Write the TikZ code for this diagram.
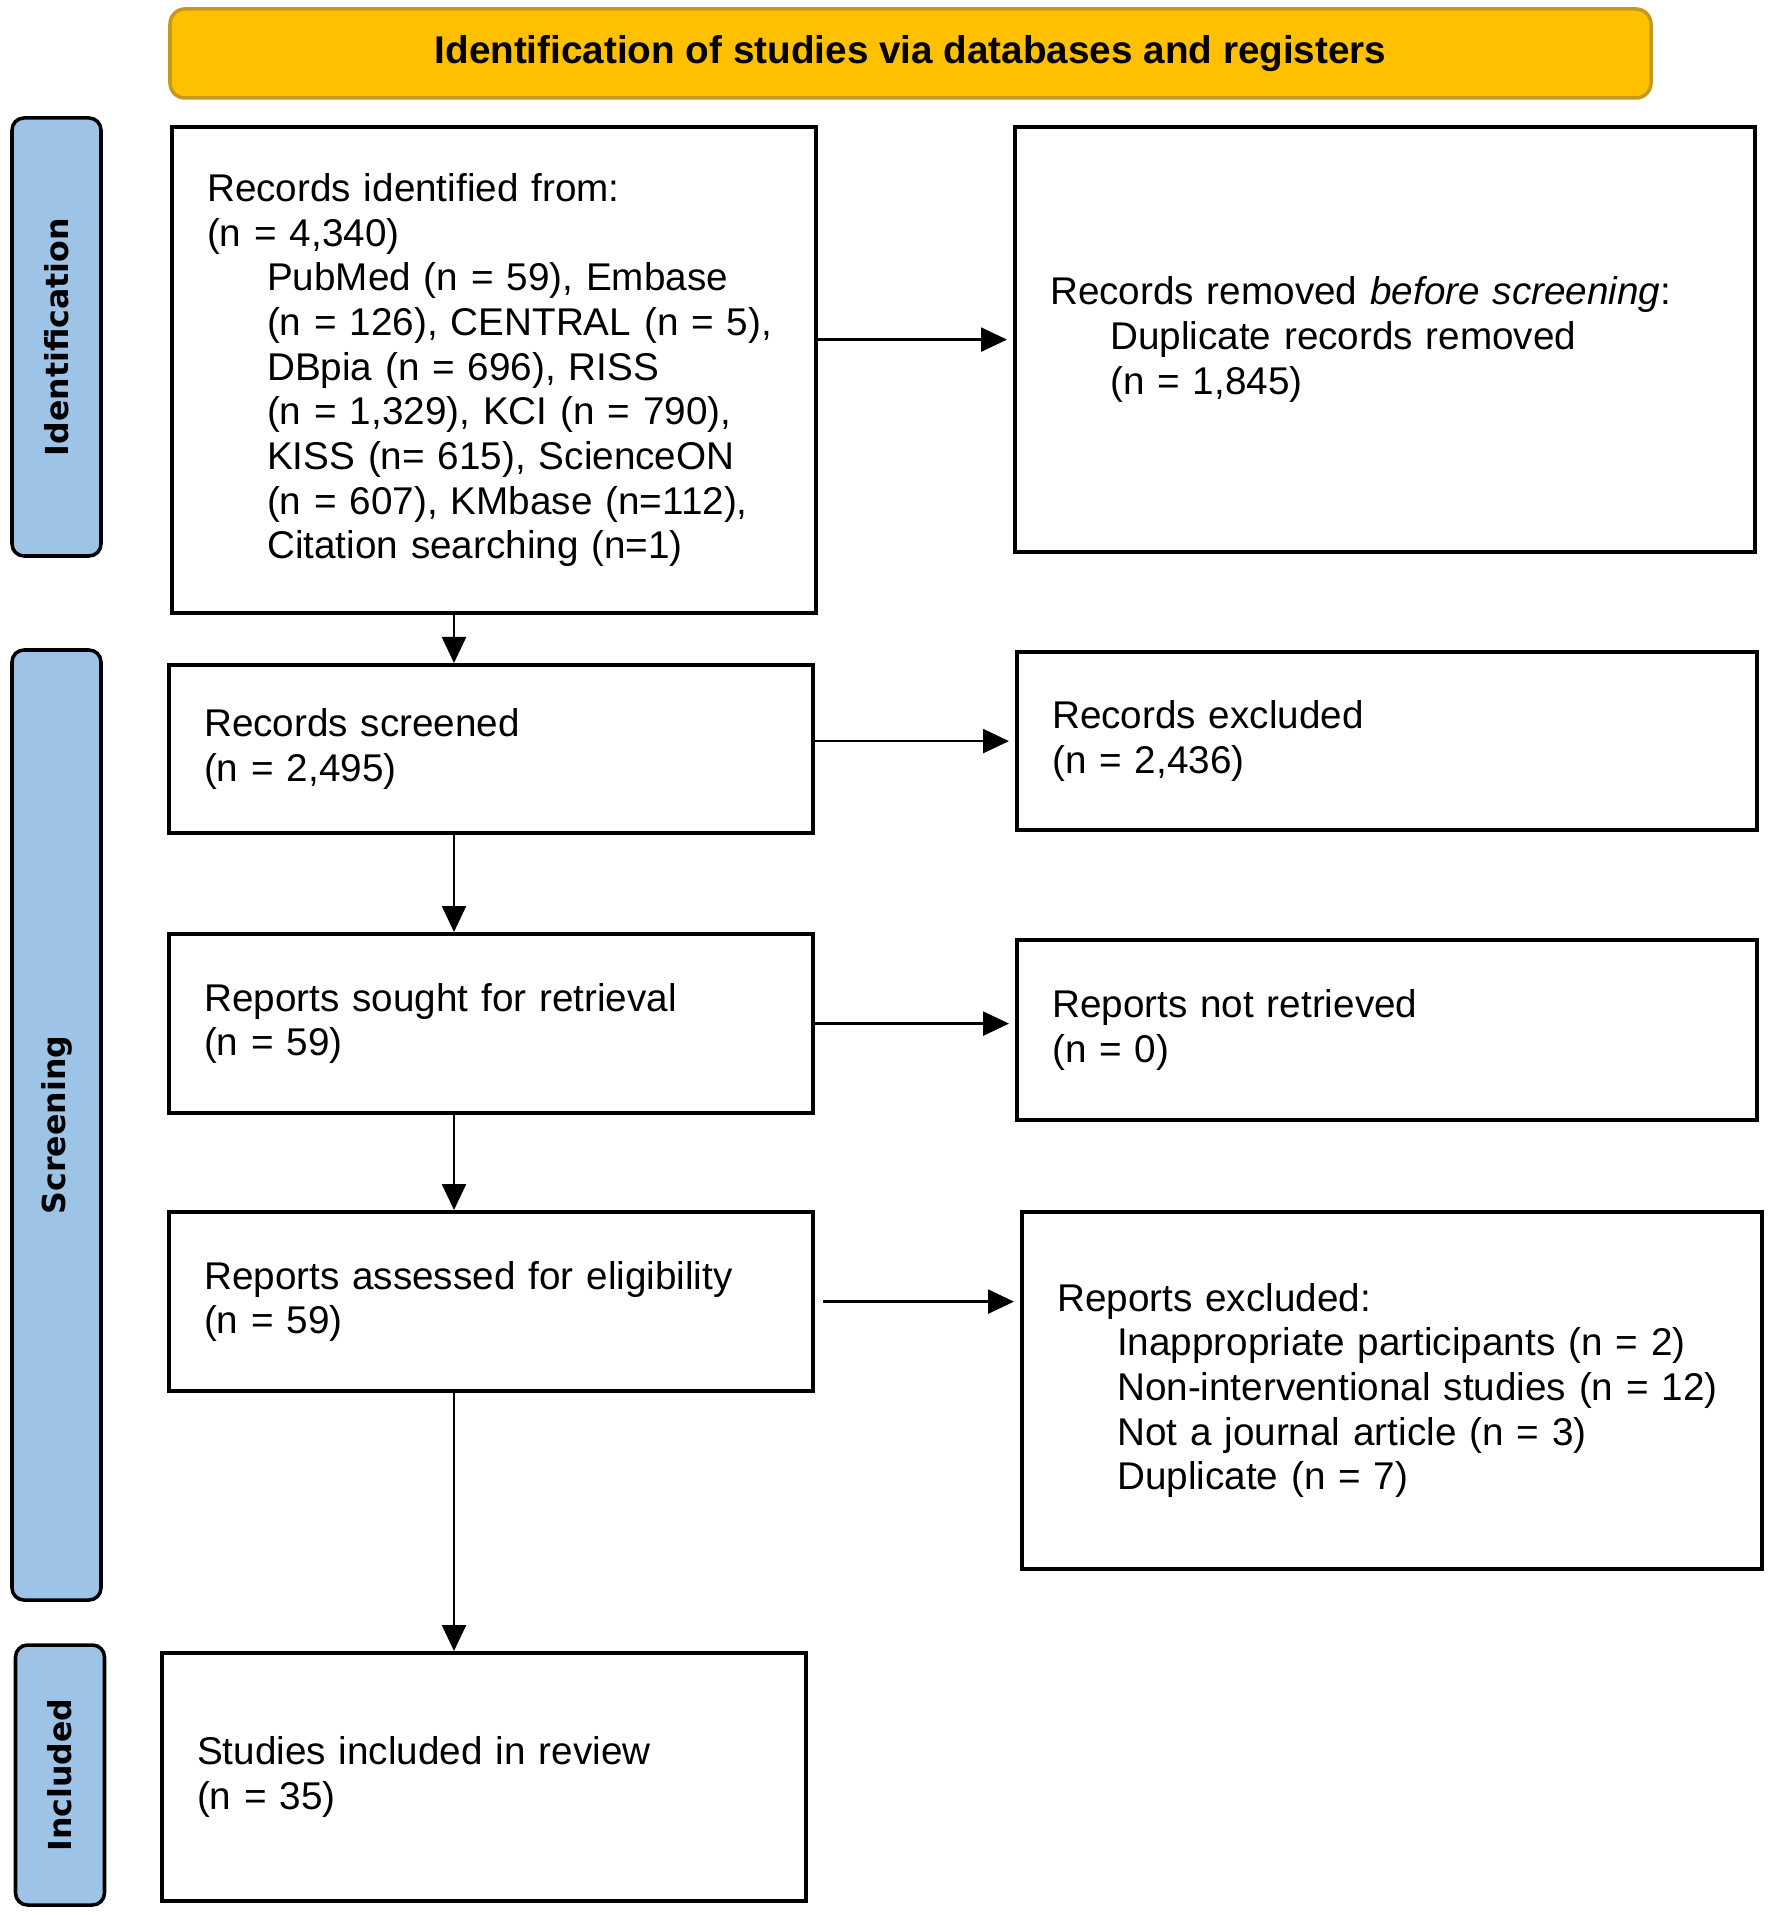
\documentclass[tikz,border=0pt]{standalone}
\usepackage{fontspec}
\setmainfont{Liberation Sans}
\newfontfamily\sidefont{DejaVu Sans}
\usetikzlibrary{arrows.meta,positioning}

\definecolor{titleorange}{HTML}{FFC000}
\definecolor{titleedge}{HTML}{C49A1C}
\definecolor{sideblue}{HTML}{9DC3E6}

\newcommand{\indline}{\hspace*{6mm}}

\begin{document}
\begin{tikzpicture}[
    box/.style={draw, line width=1.2pt, anchor=north west, align=left, inner xsep=3.5mm, font=\fontsize{11}{12.7}\selectfont},
    leftbox/.style={box, text width=5.74cm},
    rightbox/.style={box, text width=6.70cm},
    phase/.style={draw, line width=1pt, fill=sideblue, rounded corners=1.2mm, rotate=90, minimum height=0.89cm, font=\sidefont\bfseries\fontsize{9}{10}\selectfont},
    arr/.style={-{Triangle[length=2.6mm,width=2.4mm]}, line width=0.7pt}
]
\useasboundingbox (0,0) rectangle (17.71,-19.15);

% Bandeau du haut
\node[draw=titleedge, line width=1pt, fill=titleorange, rounded corners=1.5mm, minimum width=14.81cm, minimum height=0.89cm, font=\bfseries\fontsize{11}{13}\selectfont] (title) at (9.105,-0.535) {Identification of studies via databases and registers};

% Phases
\node[phase, minimum width=4.38cm] (identification) at (0.565,-3.37) {Identification};
\node[phase, minimum width=9.50cm] (screening) at (0.565,-11.25) {Screening};
\node[phase, minimum width=2.60cm] (included) at (0.60,-17.75) {Included};

% Colonne de gauche
\node[leftbox, minimum height=4.86cm] (identified) at (1.70,-1.25) {Records identified from:\\
(n = 4,340)\\
\indline PubMed (n = 59), Embase\\
\indline (n = 126), CENTRAL (n = 5),\\
\indline DBpia (n = 696), RISS\\
\indline (n = 1,329), KCI (n = 790),\\
\indline KISS (n= 615), ScienceON\\
\indline (n = 607), KMbase (n=112),\\
\indline Citation searching (n=1)};
\node[leftbox, minimum height=1.68cm] (screened) at (1.67,-6.63) {Records screened\\(n = 2,495)};
\node[leftbox, minimum height=1.79cm] (sought) at (1.67,-9.32) {Reports sought for retrieval\\(n = 59)};
\node[leftbox, minimum height=1.79cm] (assessed) at (1.67,-12.10) {Reports assessed for eligibility\\(n = 59)};
\node[leftbox, minimum height=2.48cm] (studies) at (1.60,-16.51) {Studies included in review\\(n = 35)};

% Colonne de droite
\node[rightbox, minimum height=4.25cm] (removed) at (10.13,-1.25) {Records removed \textit{before screening}:\\
\indline Duplicate records removed\\
\indline (n = 1,845)};
\node[rightbox, minimum height=1.78cm] (excluded) at (10.15,-6.50) {Records excluded\\(n = 2,436)};
\node[rightbox, minimum height=1.80cm] (notretrieved) at (10.15,-9.38) {Reports not retrieved\\(n = 0)};
\node[rightbox, minimum height=3.57cm] (repexcluded) at (10.20,-12.10) {Reports excluded:\\
\indline Inappropriate participants (n = 2)\\
\indline Non-interventional studies (n = 12)\\
\indline Not a journal article (n = 3)\\
\indline Duplicate (n = 7)};

% Fleches
\coordinate (spine) at (4.54,0);
\draw[arr] (identified.south -| spine) -- (screened.north -| spine);
\draw[arr] (screened.south -| spine) -- (sought.north -| spine);
\draw[arr] (sought.south -| spine) -- (assessed.north -| spine);
\draw[arr] (assessed.south -| spine) -- (studies.north -| spine);

\draw[arr, shorten >=0.6mm] (identified.east |- removed.west) -- (removed.west);
\draw[arr, shorten >=0.6mm] (screened.east |- excluded.west) -- (excluded.west);
\draw[arr, shorten >=0.6mm] (sought.east) -- (sought.east -| notretrieved.west);
\draw[arr, shorten <=0.8mm, shorten >=0.6mm] (assessed.east) -- (assessed.east -| repexcluded.west);
\end{tikzpicture}
\end{document}
